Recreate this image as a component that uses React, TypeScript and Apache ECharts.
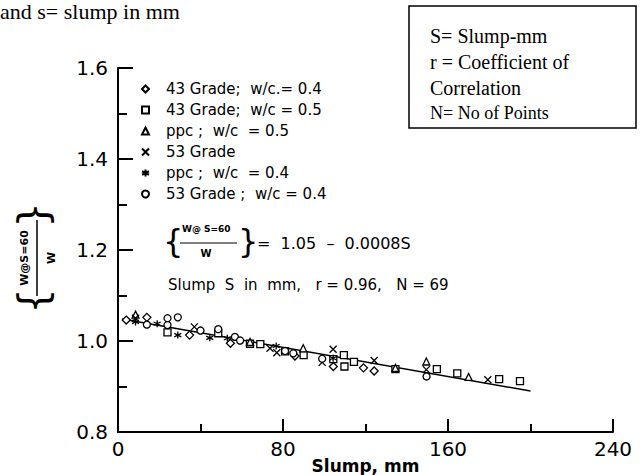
import React, { useEffect, useRef } from "react";
import * as echarts from "echarts";

// ---- data (slump mm, W@S=60 / W) ----
const seriesNames = [
  "43 Grade;  w/c.= 0.4",
  "43 Grade;  w/c = 0.5",
  "ppc ;  w/c  = 0.5",
  "53 Grade",
  "ppc ;  w/c  = 0.4",
  "53 Grade ;  w/c = 0.4",
];
const diamond43w04 = [
  [4, 1.046], [14, 1.052], [34.7, 1.013], [54.5, 0.995], [85.8, 0.967],
  [104.4, 0.944], [119, 0.941], [124.2, 0.934],
];
const square43w05 = [
  [24, 1.019], [48.6, 1.017], [64, 0.994], [69, 0.993], [81, 0.977], [90, 0.969],
  [104.4, 0.96], [109.5, 0.969], [109.8, 0.944], [114.4, 0.954], [134.5, 0.938],
  [154.6, 0.938], [164.5, 0.929], [184.8, 0.916], [194.9, 0.912],
];
const trianglePpcW05 = [
  [8.5, 1.058], [64, 0.998], [89.8, 0.984], [134.5, 0.941], [149.5, 0.955], [170, 0.921],
];
const cross53 = [
  [8.5, 1.05], [37, 1.031], [73.7, 0.984], [77, 0.974], [99, 0.953], [104.3, 0.982],
  [124.2, 0.957], [149.5, 0.937], [179.3, 0.915],
];
const asteriskPpcW04 = [
  [8.5, 1.042], [19, 1.038], [29, 1.013], [44.5, 1.007], [53, 1.006], [76.7, 0.989], [104.3, 0.962],
];
const circle53w04 = [
  [14, 1.036], [24, 1.05], [24, 1.035], [29, 1.052], [40, 1.023], [48.6, 1.026], [56.7, 1.009],
  [59.2, 1.001], [81, 0.978], [85, 0.973], [99, 0.961], [149.6, 0.922],
];
// regression: W@S=60/W = 1.05 - 0.0008 S
const fitIntercept = 1.05;
const fitSlope = -0.0008;
const fitRange = [2, 200];

const xTicks = [0, 80, 160, 240];
const yTicks = [0.8, 1.0, 1.2, 1.4, 1.6];

const crossPath = "path://M0,0L10,10M10,0L0,10";
const asteriskPath = "path://M5,0L5,10M0,2.5L10,7.5M0,7.5L10,2.5";

const FONT = "DejaVu Sans";
const SERIF = "'Liberation Serif'";

export default function App() {
  const ref = useRef<HTMLDivElement>(null);
  useEffect(() => {
    if (!ref.current) return;
    const chart = echarts.init(ref.current, undefined, { renderer: "svg" });
    const mk = (name: string, data: number[][], symbol: string, size: number) => ({
      name,
      type: "scatter",
      data,
      symbol,
      symbolSize: size,
      itemStyle: { color: "#fff", borderColor: "#000", borderWidth: 1.3, opacity: 1 },
      z: 3,
    });
    const fitData = fitRange.map((s) => [s, fitIntercept + fitSlope * s]);
    const graphic: any[] = [
      {
        type: "text",
        left: 0,
        top: 0,
        style: { text: "and s= slump in mm", fill: "#000", font: `22px ${SERIF}` },
      },
      {
        type: "rect",
        shape: { x: 409, y: 6, width: 227, height: 122 },
        style: { fill: "#fff", stroke: "#000", lineWidth: 1.5 },
      },
      {
        type: "text",
        x: 430,
        y: 36,
        style: { text: "S= Slump-mm", fill: "#000", font: `20px ${SERIF}`, verticalAlign: "middle" },
      },
      {
        type: "text",
        x: 430,
        y: 62,
        style: { text: "r = Coefficient of", fill: "#000", font: `20px ${SERIF}`, verticalAlign: "middle" },
      },
      {
        type: "text",
        x: 430,
        y: 88,
        style: { text: "Correlation", fill: "#000", font: `20px ${SERIF}`, verticalAlign: "middle" },
      },
      {
        type: "text",
        x: 430,
        y: 113,
        style: { text: "N= No of Points", fill: "#000", font: `18px ${SERIF}`, verticalAlign: "middle" },
      },
      // equation inside plot
      {
        type: "text",
        x: 163,
        y: 241,
        style: { text: "{", fill: "#000", font: "32px 'DejaVu Sans'", verticalAlign: "middle" },
      },
      {
        type: "text",
        x: 182,
        y: 229,
        style: { text: "W@ S=60", fill: "#000", font: "bold 9px 'DejaVu Sans'", verticalAlign: "middle" },
      },
      {
        type: "line",
        shape: { x1: 180, y1: 243, x2: 237, y2: 243 },
        style: { stroke: "#000", lineWidth: 1.2 },
      },
      {
        type: "text",
        x: 206,
        y: 253,
        style: { text: "W", fill: "#000", font: "bold 10px 'DejaVu Sans'", verticalAlign: "middle", align: "center" },
      },
      {
        type: "text",
        x: 238,
        y: 241,
        style: { text: "}", fill: "#000", font: "32px 'DejaVu Sans'", verticalAlign: "middle" },
      },
      {
        type: "text",
        x: 257,
        y: 243,
        style: { text: "=  1.05  –  0.0008S", fill: "#000", font: "16px 'DejaVu Sans'", verticalAlign: "middle" },
      },
      {
        type: "text",
        x: 168,
        y: 285,
        style: {
          text: "Slump  S  in  mm,   r = 0.96,   N = 69",
          fill: "#000",
          font: "15px 'DejaVu Sans'",
          verticalAlign: "middle",
        },
      },
      // y-axis name: { W@S=60 / W } rotated
      {
        type: "text",
        x: 24,
        y: 258,
        rotation: Math.PI / 2,
        style: { text: "W@S=60", fill: "#000", font: "bold 11px 'DejaVu Sans'", align: "center", verticalAlign: "middle" },
      },
      {
        type: "line",
        shape: { x1: 37, y1: 220, x2: 37, y2: 296 },
        style: { stroke: "#000", lineWidth: 1.5 },
      },
      {
        type: "text",
        x: 51,
        y: 258,
        rotation: Math.PI / 2,
        style: { text: "W", fill: "#000", font: "bold 11px 'DejaVu Sans'", align: "center", verticalAlign: "middle" },
      },
      {
        type: "text",
        x: 37,
        y: 215,
        rotation: -Math.PI / 2,
        style: { text: "{", fill: "#000", font: "40px 'DejaVu Sans'", align: "center", verticalAlign: "middle" },
      },
      {
        type: "text",
        x: 37,
        y: 301,
        rotation: -Math.PI / 2,
        style: { text: "}", fill: "#000", font: "40px 'DejaVu Sans'", align: "center", verticalAlign: "middle" },
      },
    ];
    const axisCommon = {
      type: "value",
      axisLine: { show: true, onZero: false, lineStyle: { color: "#000", width: 2 } },
      axisTick: { show: true, inside: true, lineStyle: { color: "#000", width: 2 } },
      minorTick: { show: true, splitNumber: 2, lineStyle: { color: "#000", width: 2 } },
      splitLine: { show: false },
    };
    chart.setOption({
      animation: false,
      backgroundColor: "#fff",
      grid: { left: 118, right: 30, top: 68, bottom: 43, containLabel: false, outerBoundsMode: "none" },
      xAxis: {
        ...axisCommon,
        min: xTicks[0],
        max: xTicks[xTicks.length - 1],
        interval: 80,
        axisTick: { ...axisCommon.axisTick, length: 13 },
        minorTick: { ...axisCommon.minorTick, length: 8 },
        axisLabel: { color: "#000", fontSize: 20, fontFamily: FONT, margin: 7 },
        name: "Slump, mm",
        nameLocation: "middle",
        nameGap: 25,
        nameMoveOverlap: false,
        nameTextStyle: { color: "#000", fontSize: 17, fontWeight: "bold", fontFamily: FONT },
      },
      yAxis: {
        ...axisCommon,
        min: yTicks[0],
        max: yTicks[yTicks.length - 1],
        interval: 0.2,
        axisTick: { ...axisCommon.axisTick, length: 15 },
        minorTick: { ...axisCommon.minorTick, length: 9 },
        axisLabel: {
          color: "#000",
          fontSize: 20,
          fontFamily: FONT,
          margin: 10,
          formatter: (v: number) => v.toFixed(1),
        },
      },
      legend: {
        orient: "vertical",
        left: 141,
        top: 81,
        itemWidth: 7,
        itemHeight: 7,
        itemGap: 5,
        padding: 0,
        selectedMode: false,
        textStyle: { color: "#000", fontSize: 15, fontFamily: FONT, padding: [0, 0, 0, 12], lineHeight: 16 },
        data: seriesNames,
      },
      series: [
        mk(seriesNames[0], diamond43w04, "diamond", 8),
        mk(seriesNames[1], square43w05, "rect", 7),
        mk(seriesNames[2], trianglePpcW05, "triangle", 7),
        mk(seriesNames[3], cross53, crossPath, 7),
        mk(seriesNames[4], asteriskPpcW04, asteriskPath, 7),
        mk(seriesNames[5], circle53w04, "circle", 7),
        {
          name: "fit",
          type: "line",
          data: fitData,
          showSymbol: false,
          symbol: "none",
          lineStyle: { color: "#000", width: 1.5 },
          z: 2,
          silent: true,
        },
      ],
      graphic,
    });
    return () => chart.dispose();
  }, []);
  return (
    <div
      ref={ref}
      style={{ position: "fixed", left: 0, top: 0, width: 643, height: 475, background: "#fff" }}
    />
  );
}
